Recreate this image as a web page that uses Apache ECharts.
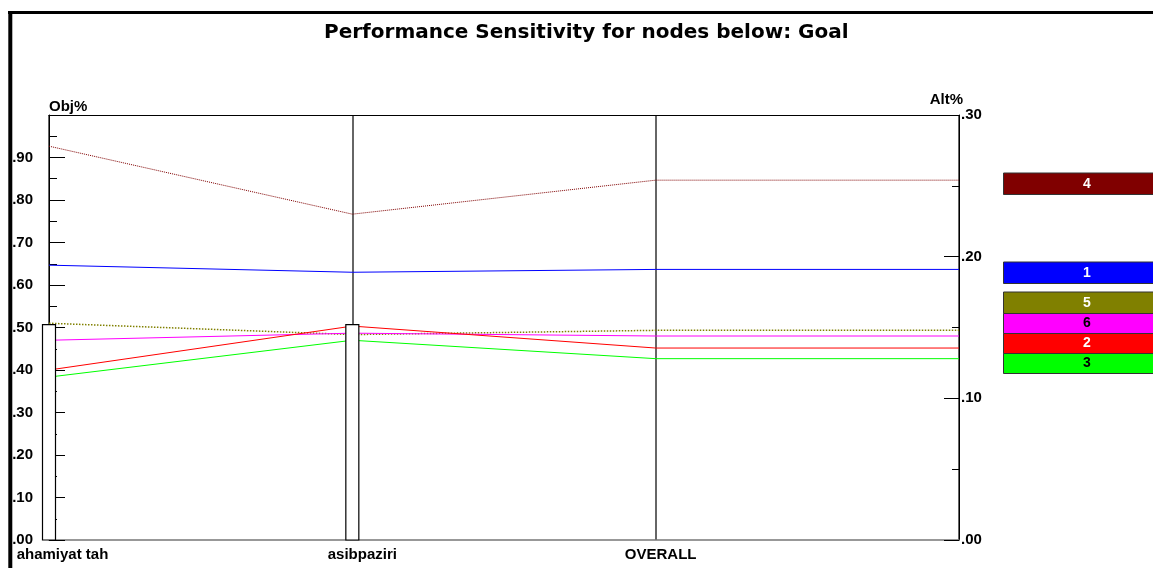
<!DOCTYPE html>
<html>
<head>
<meta charset="utf-8">
<script src="https://cdn.jsdelivr.net/npm/echarts@6/dist/echarts.min.js"></script>
<style>
html,body{margin:0;padding:0;background:#fff;}
#c{width:1153px;height:568px;}
</style>
</head>
<body>
<div id="c"></div>
<script>
// ---- data ----
const categories = ['ahamiyat tah', 'asibpaziri', 'OVERALL'];
const objWeights = [0.507, 0.507];           // objective bars (Obj%), first two nodes
const altNames = ['4', '1', '5', '6', '2', '3'];
const alt4 = [0.278, 0.230, 0.254];
const alt1 = [0.194, 0.189, 0.191];
const alt5 = [0.153, 0.145, 0.148];
const alt6 = [0.141, 0.146, 0.144];
const alt2 = [0.120, 0.151, 0.1355];
const alt3 = [0.115, 0.141, 0.128];
const objTicks = ['.00', '.10', '.20', '.30', '.40', '.50', '.60', '.70', '.80', '.90'];
const altTicks = ['.00', '.10', '.20', '.30'];

// ---- styles ----
const altValues = [alt4, alt1, alt5, alt6, alt2, alt3];
const altColors = ['#800000', '#0000ff', '#808000', '#ff00ff', '#ff0000', '#00ff00'];
const altDash = ['dotted', 'solid', 'dotted', 'solid', 'solid', 'solid'];
const altWidths = [1, 1, 1.5, 1, 1, 1];
const altTextColors = ['#fff', '#fff', '#fff', '#000', '#fff', '#000'];
const legendTops = [173, 262, 292, 313.5, 333.5, 353.5];
const legendHeights = [21.5, 21.5, 21.5, 20, 20, 20];

const LBL = { fontFamily: 'Liberation Sans, Arial, sans-serif', fontWeight: 'bold', fontSize: 15, color: '#000' };

const chart = echarts.init(document.getElementById('c'), null, { renderer: 'canvas' });

const lineSeries = altValues.map((vals, i) => ({
  type: 'line',
  name: altNames[i],
  xAxisIndex: 0,
  yAxisIndex: 1,
  data: vals.map((v, k) => [k, v]).concat([[categories.length, vals[vals.length - 1]]]),
  symbol: 'none',
  silent: true,
  z: 3,
  lineStyle: { color: altColors[i], width: altWidths[i], type: altDash[i] }
}));

const barSeries = {
  type: 'custom',
  xAxisIndex: 0,
  yAxisIndex: 0,
  z: 4,
  data: objWeights.map((v, k) => [k, v]),
  renderItem: function (params, api) {
    const p0 = api.coord([api.value(0), 0]);
    const p1 = api.coord([api.value(0), api.value(1)]);
    return {
      type: 'rect',
      shape: { x: p0[0] - 6.5, y: p1[1], width: 13, height: p0[1] - p1[1] },
      style: { fill: '#fff', stroke: '#000', lineWidth: 1.2 }
    };
  }
};

const labelPads = [27, 20, 10];

const legendGraphics = [];
altNames.forEach((n, i) => {
  legendGraphics.push({
    type: 'rect',
    shape: { x: 1003.5, y: legendTops[i], width: 170, height: legendHeights[i] },
    style: { fill: altColors[i], stroke: '#333', lineWidth: 1 },
    z: 10
  });
  legendGraphics.push({
    type: 'text',
    x: 1087, y: legendTops[i] + legendHeights[i] / 2,
    style: {
      text: n, fill: altTextColors[i], align: 'center', verticalAlign: 'middle',
      font: 'bold 14px "Liberation Sans", Arial, sans-serif'
    },
    z: 11
  });
});

const option = {
  animation: false,
  backgroundColor: '#fff',
  title: {
    text: 'Performance Sensitivity for nodes below: Goal',
    left: 319, top: 18,
    textStyle: { fontFamily: 'DejaVu Sans, Verdana, sans-serif', fontWeight: 'bold', fontSize: 20, color: '#000' }
  },
  grid: { left: 49, right: 194, top: 115, bottom: 28, containLabel: false },
  xAxis: [{
    type: 'value', min: 0, max: categories.length, interval: 1,
    position: 'bottom',
    axisLine: { show: true, onZero: false, lineStyle: { color: '#777', width: 1.5 } },
    axisTick: { show: false },
    splitLine: { show: true, lineStyle: { color: '#333', width: 1.5 } },
    axisLabel: {
      ...LBL, margin: 7, align: 'center', showMinLabel: true, showMaxLabel: true,
      formatter: function (v) {
        const k = Math.round(v);
        return k < categories.length ? '{p' + k + '|' + categories[k] + '}' : '';
      },
      rich: {
        p0: { ...LBL, padding: [0, 0, 0, labelPads[0]] },
        p1: { ...LBL, padding: [0, 0, 0, labelPads[1]] },
        p2: { ...LBL, padding: [0, 0, 0, labelPads[2]] }
      }
    }
  }, {
    type: 'value', min: 0, max: categories.length, interval: 1,
    position: 'top',
    axisLine: { show: true, onZero: false, lineStyle: { color: '#000', width: 1 } },
    axisTick: { show: false },
    axisLabel: { show: false },
    splitLine: { show: false }
  }],
  yAxis: [{
    type: 'value', min: 0, max: 1, interval: 0.1,
    position: 'left',
    name: 'Obj%', nameLocation: 'end', nameGap: 1,
    nameTextStyle: { ...LBL, fontSize: 15, align: 'left', verticalAlign: 'bottom' },
    axisLine: { show: true, onZero: false, lineStyle: { color: '#000', width: 1 } },
    axisTick: { show: true, inside: true, length: 16, lineStyle: { color: '#000', width: 1 } },
    minorTick: { show: true, splitNumber: 2, length: 8, lineStyle: { color: '#000', width: 1 } },
    splitLine: { show: false },
    axisLabel: {
      ...LBL, margin: 16,
      formatter: function (v) {
        const k = Math.round(v * 10);
        return k < objTicks.length ? objTicks[k] : '';
      }
    }
  }, {
    type: 'value', min: 0, max: 0.3, interval: 0.1,
    position: 'right',
    name: 'Alt%', nameLocation: 'end', nameGap: 1,
    nameTextStyle: { ...LBL, fontSize: 15, align: 'right', verticalAlign: 'bottom', padding: [0, -4, 0, 0] },
    axisLine: { show: true, onZero: false, lineStyle: { color: '#000', width: 1 } },
    axisTick: { show: true, inside: true, length: 15, lineStyle: { color: '#000', width: 1 } },
    minorTick: { show: true, splitNumber: 2, length: 7, lineStyle: { color: '#000', width: 1 } },
    splitLine: { show: false },
    axisLabel: {
      ...LBL, margin: 2, align: 'left',
      formatter: function (v) {
        const k = Math.round(v * 10);
        return k < altTicks.length ? altTicks[k] : '';
      }
    }
  }],
  graphic: [
    { type: 'line', shape: { x1: 8, y1: 12.5, x2: 1153, y2: 12.5 }, style: { stroke: '#000', lineWidth: 3 }, z: 20 },
    { type: 'line', shape: { x1: 10.3, y1: 11, x2: 10.3, y2: 568 }, style: { stroke: '#000', lineWidth: 4 }, z: 20 }
  ].concat(legendGraphics),
  series: lineSeries.concat([barSeries])
};

chart.setOption(option);
</script>
</body>
</html>
